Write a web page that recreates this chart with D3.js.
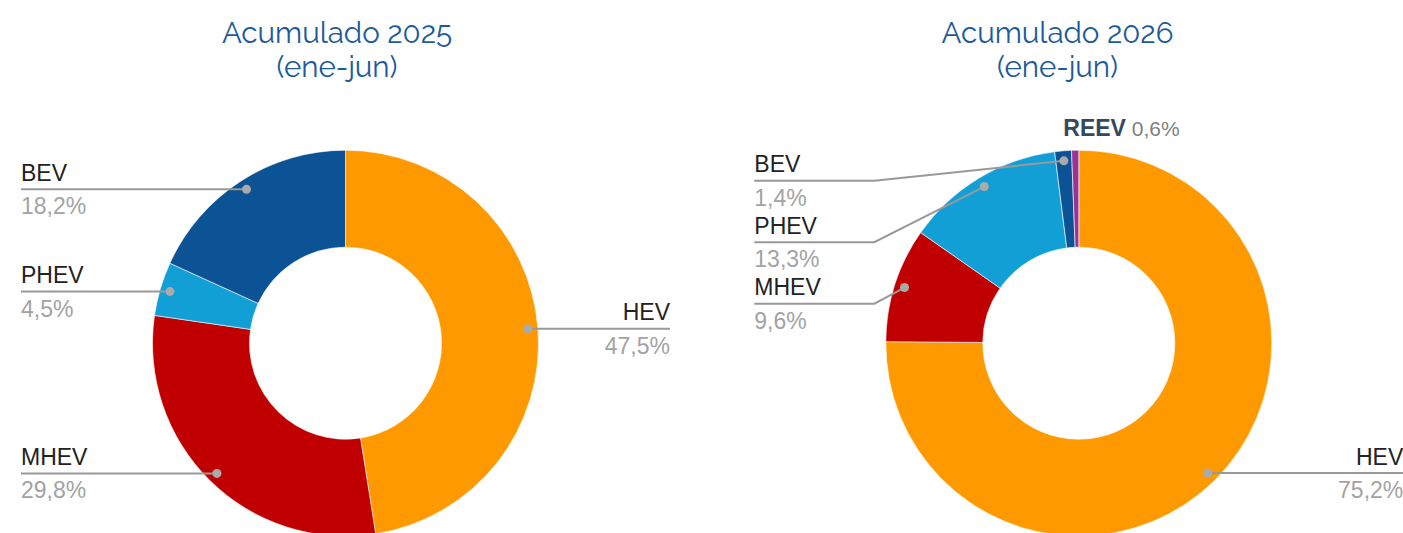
<!DOCTYPE html>
<html>
<head>
<meta charset="utf-8">
<script src="https://cdn.jsdelivr.net/npm/d3@7"></script>
<style>
  body { margin: 0; background: #fff; }
  svg { display: block; }
  .title { font-family: Raleway, Lato, sans-serif; fill: #1d5a9a; font-size: 29.5px; }
  .lbl-name { font-family: "Liberation Sans", Arial, sans-serif; font-size: 23px; fill: #222; }
  .lbl-pct { font-family: "Liberation Sans", Arial, sans-serif; font-size: 23px; fill: #a3a3a3; }
</style>
</head>
<body>
<svg id="chart" width="1403" height="533"></svg>
<script>
// data
var categories2025 = ["HEV", "MHEV", "PHEV", "BEV"];
var values2025 = [47.5, 29.8, 4.5, 18.2];
var categories2026 = ["HEV", "MHEV", "PHEV", "BEV", "REEV"];
var values2026 = [75.2, 9.6, 13.3, 1.4, 0.6];
var titles = [["Acumulado 2025", "(ene-jun)"], ["Acumulado 2026", "(ene-jun)"]];
var colors = { HEV: "#ff9900", MHEV: "#c00000", PHEV: "#129fd6", BEV: "#0b5394", REEV: "#993399" };

var svg = d3.select("#chart");
var fmt = function(v) { return d3.format(".1f")(v).replace(".", ",") + "%"; };

function drawDonut(cats, vals, title, cx, cy, titleX) {
	var R = 193, r = 96;
	var g = svg.append("g").attr("transform", "translate(" + cx + "," + cy + ")");

	var t = svg.append("text").attr("class", "title").attr("text-anchor", "middle");
	t.append("tspan").attr("x", titleX).attr("y", 43).text(title[0]);
	t.append("tspan").attr("x", titleX).attr("y", 77).text(title[1]);

	var data = cats.map(function(c, i) { return { name: c, value: vals[i] }; });
	var pie = d3.pie().sort(null).value(function(d) { return d.value; });
	var arcs = pie(data);
	var arc = d3.arc().innerRadius(r).outerRadius(R);

	g.selectAll("path.slice").data(arcs).enter().append("path")
		.attr("class", "slice")
		.attr("d", arc)
		.attr("fill", function(d) { return colors[d.data.name]; })
		.attr("stroke", "#fff")
		.attr("stroke-width", 0.6);

	// leader labels
	var dotR = R * 0.948;
	var labels = arcs.map(function(d) {
		var a = (d.startAngle + d.endAngle) / 2;
		return {
			d: d,
			x: dotR * Math.sin(a), y: -dotR * Math.cos(a),
			side: a < Math.PI ? 1 : -1,
			small: d.data.value < 1
		};
	});

	// stack labels on each side so they don't overlap
	var minY = -R + 30.5, gap = 61.5, colX = 324.5, elbow = 120;
	[-1, 1].forEach(function(side) {
		var list = labels.filter(function(l) { return l.side === side && !l.small; })
			.sort(function(a, b) { return a.y - b.y; });
		var prev = -Infinity;
		list.forEach(function(l) {
			l.ly = Math.max(l.y, prev + gap, minY);
			prev = l.ly;
		});
	});

	labels.forEach(function(l) {
		if (l.small) {
			var tt = g.append("text")
				.attr("x", -15.5).attr("y", -R - 14)
				.style("font-family", "'Liberation Sans', Arial, sans-serif");
			tt.append("tspan").attr("font-weight", "bold").attr("font-size", "23px")
				.attr("fill", "#34495e").text(l.d.data.name);
			tt.append("tspan").attr("font-size", "21px").attr("fill", "#7f7f7f")
				.text(" " + fmt(l.d.data.value));
			return;
		}
		var tx = l.side * colX;
		var ex = tx - l.side * elbow;
		var pts = [[tx, l.ly], [ex, l.ly], [l.x, l.y]];
		if (l.side > 0 || Math.abs(l.ly - l.y) < 1) pts = [[tx, l.ly], [l.x, l.y]];
		g.append("path")
			.attr("d", d3.line()(pts))
			.attr("fill", "none")
			.attr("stroke", "#999")
			.attr("stroke-width", 2);
		g.append("circle").attr("cx", l.x).attr("cy", l.y).attr("r", 4.5).attr("fill", "#aaa");

		var anchor = l.side < 0 ? "start" : "end";
		g.append("text").attr("class", "lbl-name")
			.attr("x", tx).attr("y", l.ly - 8.5)
			.attr("text-anchor", anchor)
			.text(l.d.data.name);
		g.append("text").attr("class", "lbl-pct")
			.attr("x", tx).attr("y", l.ly + 25)
			.attr("text-anchor", anchor)
			.text(fmt(l.d.data.value));
	});
}

drawDonut(categories2025, values2025, titles[0], 345.5, 343.2, 337);
drawDonut(categories2026, values2026, titles[1], 1078.8, 343.2, 1057.5);
</script>
</body>
</html>
